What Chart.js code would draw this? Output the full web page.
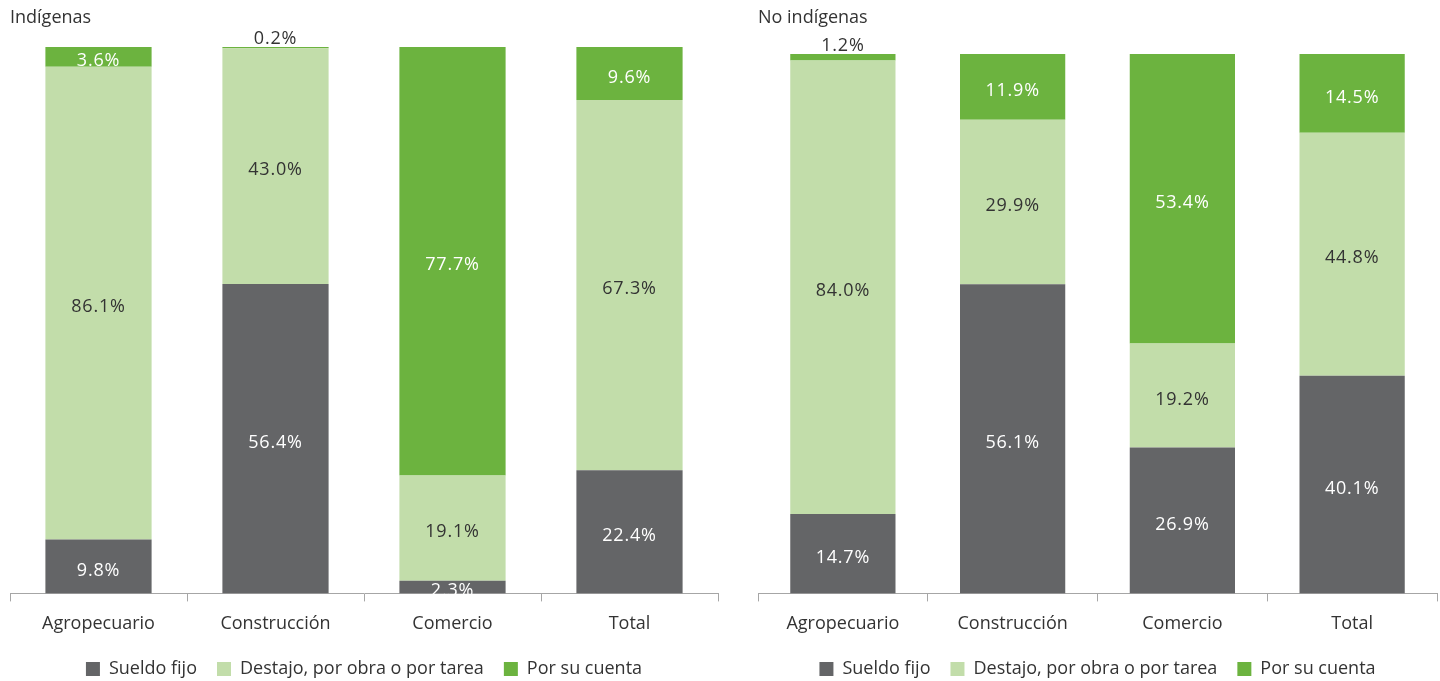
<!DOCTYPE html>
<html>
<head>
<meta charset="utf-8">
<script src="https://cdn.jsdelivr.net/npm/chart.js@4"></script>
<style>
  html, body { margin: 0; padding: 0; background: #fff; }
  .wrap { display: flex; width: 1440px; height: 681px; }
  .box { position: relative; width: 720px; height: 681px; }
</style>
</head>
<body>
<div class="wrap">
  <div class="box"><canvas id="chartIndigenas"></canvas></div>
  <div class="box"><canvas id="chartNoIndigenas"></canvas></div>
</div>
<script>
// Kategorien und Serien
const categories = ["Agropecuario", "Construcción", "Comercio", "Total"];
const seriesNames = ["Sueldo fijo", "Destajo, por obra o por tarea", "Por su cuenta"];

// Indígenas
const indSueldo = [9.8, 56.4, 2.3, 22.4];
const indDestajo = [86.1, 43.0, 19.1, 67.3];
const indCuenta = [3.6, 0.2, 77.7, 9.6];

// No indígenas
const noIndSueldo = [14.7, 56.1, 26.9, 40.1];
const noIndDestajo = [84.0, 29.9, 19.2, 44.8];
const noIndCuenta = [1.2, 11.9, 53.4, 14.5];

const colors = ["#646567", "#c2ddaa", "#6cb33f"];
const labelColors = ["#ffffff", "#333333", "#ffffff"];
const FONT = "'Open Sans', sans-serif";
const SIZE = 18;

// Excel-artig: 100% gestapelt
function shares(series, i) {
  const sum = series.reduce((a, s) => a + s[i], 0);
  return series.map(s => (s[i] / sum) * 100);
}

// Beschriftungen in die Segmente zeichnen
const barLabels = {
  id: "barLabels",
  afterDatasetsDraw(chart) {
    const ctx = chart.ctx;
    ctx.save();
    ctx.font = SIZE + "px " + FONT;
    ctx.letterSpacing = "0.8px";
    ctx.textAlign = "center";
    ctx.textBaseline = "middle";
    chart.data.datasets.forEach((ds, di) => {
      const meta = chart.getDatasetMeta(di);
      meta.data.forEach((bar, i) => {
        const raw = ds.raw[i];
        const txt = raw.toFixed(1) + "%";
        if (raw < 2) {
          // kleine Werte oberhalb des Balkens
          ctx.fillStyle = "#333333";
          ctx.fillText(txt, bar.x, bar.y - 8);
        } else {
          ctx.fillStyle = labelColors[di];
          ctx.fillText(txt, bar.x, (bar.y + bar.base) / 2 + 4);
        }
      });
    });
    ctx.restore();
  }
};

function makeChart(id, title, series, opts) {
  const normalized = series.map((s, k) => s.map((_, i) => shares(series, i)[k]));
  return new Chart(document.getElementById(id), {
    type: "bar",
    data: {
      labels: categories,
      datasets: series.map((s, k) => ({
        label: seriesNames[k],
        data: normalized[k],
        raw: s,
        backgroundColor: colors[k],
        borderWidth: 0,
        categoryPercentage: 1,
        barPercentage: opts.barPct
      }))
    },
    options: {
      responsive: true,
      maintainAspectRatio: false,
      animation: false,
      layout: { padding: { left: opts.left, right: opts.right, top: 0, bottom: -7 } },
      scales: {
        x: {
          stacked: true,
          border: { color: "#a6a6a6", width: 1 },
          grid: { offset: true, drawOnChartArea: false, drawTicks: true, tickLength: 8, color: "#a6a6a6" },
          ticks: { color: "#333333", font: { family: FONT, size: SIZE }, padding: 12 },
          afterFit(scale) { scale.height -= 7; }
        },
        y: { stacked: true, display: false, min: 0, max: 100 }
      },
      plugins: {
        title: {
          display: true,
          text: title,
          align: "start",
          color: "#333333",
          font: { family: FONT, size: SIZE, weight: "normal" },
          padding: { top: 7, bottom: opts.titleBottom }
        },
        legend: {
          position: "bottom",
          labels: {
            color: "#333333",
            font: { family: FONT, size: SIZE },
            boxWidth: 14,
            boxHeight: 14,
            padding: 20
          }
        },
        tooltip: { enabled: false }
      }
    },
    plugins: [barLabels]
  });
}

makeChart("chartIndigenas", "Indígenas", [indSueldo, indDestajo, indCuenta],
  { left: 10, right: 2, barPct: 0.6, titleBottom: 18.5 });
makeChart("chartNoIndigenas", "No indígenas", [noIndSueldo, noIndDestajo, noIndCuenta],
  { left: 38, right: 3, barPct: 0.62, titleBottom: 25.5 });
</script>
</body>
</html>
